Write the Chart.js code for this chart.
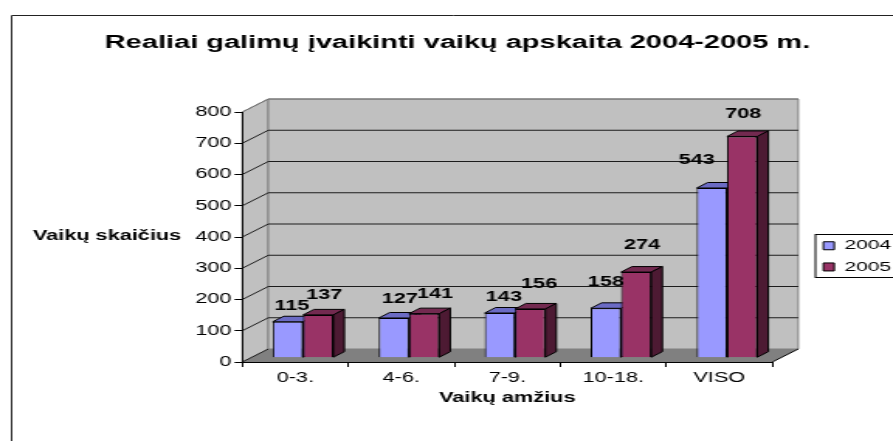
<!DOCTYPE html>
<html><head><meta charset="utf-8">
<style>
html,body{margin:0;padding:0;background:#fff;overflow:hidden;width:893px;height:441px}
canvas{display:block;transform-origin:0 0;transform:scaleX(1.5503)}
</style>
<script src="https://cdn.jsdelivr.net/npm/chart.js@4/dist/chart.umd.min.js"></script>
</head><body>
<canvas id="c" width="576" height="441"></canvas>
<script>
const categories = ["0-3.", "4-6.", "7-9.", "10-18.", "VISO"];
const series2004 = [115, 127, 143, 158, 543];
const series2005 = [137, 141, 156, 274, 708];
const seriesNames = ["2004", "2005"];
const titleText = "Realiai galimų įvaikinti vaikų apskaita 2004-2005 m.";
const yAxisTitle = "Vaikų skaičius";
const xAxisTitle = "Vaikų amžius";

const K = 893 / 576;              // horizontal stretch of the whole picture
const FONT = "'Liberation Sans', Arial, sans-serif";
const wallDepth = { x: 26 / K, y: -13 };
const barDepth = { x: 11 / K, y: -5.5 };
const barShift = { x: 7.7 / K, y: -4.3 };
const faceColors = [
  { top: "#6b6bc4", side: "#4f4f9a" },
  { top: "#732a50", side: "#4d1a33" }
];
// hand-placed data label offsets from the top-centre of each bar (reference px)
const labelNudge = [
  [[4, -16], [6, -19], [4, -16], [0, -26], [-15, -28]],
  [[6, -20], [11, -19], [9, -25], [6, -27], [1, -22]]
];

function poly(ctx, pts, fill, stroke) {
  ctx.beginPath();
  pts.forEach((p, i) => i ? ctx.lineTo(p[0], p[1]) : ctx.moveTo(p[0], p[1]));
  ctx.closePath();
  if (fill) { ctx.fillStyle = fill; ctx.fill(); }
  if (stroke) { ctx.strokeStyle = stroke; ctx.lineWidth = 1; ctx.stroke(); }
}

const scene3d = {
  id: "scene3d",
  afterLayout(chart) {
    const lg = chart.legend, w = lg.width, h = lg.height;
    lg.left = 523.4; lg.right = lg.left + w;
    lg.top = 231.3; lg.bottom = lg.top + h;
    // the title is centred on the picture's own centre line, not the plot
    const tb = chart.titleBlock, tw = tb.right - tb.left;
    tb.left = 457.5 / K - tw / 2; tb.right = tb.left + tw;
  },
  beforeDraw(chart) {
    const { ctx, chartArea: a, scales: { y } } = chart;
    const d = wallDepth;
    ctx.save();
    // outer frame (left and top edges; the rest is cropped)
    ctx.strokeStyle = "#222"; ctx.lineWidth = 1;
    ctx.beginPath();
    ctx.moveTo(7.5, 445); ctx.lineTo(7.5, 15.5); ctx.lineTo(600, 15.5); ctx.stroke();
    // floor and walls
    poly(ctx, [[a.left, a.bottom], [a.right, a.bottom], [a.right + d.x, a.bottom + d.y], [a.left + d.x, a.bottom + d.y]], "#808080");
    poly(ctx, [[a.left, a.bottom], [a.left, a.top], [a.left + d.x, a.top + d.y], [a.left + d.x, a.bottom + d.y]], "#c0c0c0", "#808080");
    poly(ctx, [[a.left + d.x, a.bottom + d.y], [a.left + d.x, a.top + d.y], [a.right + d.x, a.top + d.y], [a.right + d.x, a.bottom + d.y]], "#c0c0c0", "#808080");
    // gridlines run along the side wall and across the back wall
    y.ticks.forEach(t => {
      const py = y.getPixelForValue(t.value);
      ctx.strokeStyle = t.value === y.max ? "#707070" : "#1c1c1c";
      ctx.lineWidth = 1;
      ctx.beginPath();
      ctx.moveTo(a.left, py);
      ctx.lineTo(a.left + d.x, py + d.y);
      if (t.value !== 0) ctx.lineTo(a.right + d.x, py + d.y);
      ctx.stroke();
    });
    ctx.strokeStyle = "#000";
    ctx.beginPath();
    ctx.moveTo(a.right, a.bottom); ctx.lineTo(a.right + d.x, a.bottom + d.y);
    ctx.stroke();
    ctx.restore();
  },
  beforeDatasetsDraw(chart) {
    const ctx = chart.ctx;
    ctx.save();
    ctx.translate(barShift.x, barShift.y);
    [0, 1].forEach(ds => {
      chart.getDatasetMeta(ds).data.forEach(b => {
        const l = b.x - b.width / 2, r = b.x + b.width / 2;
        const dx = barDepth.x, dy = barDepth.y;
        poly(ctx, [[l, b.y], [r, b.y], [r + dx, b.y + dy], [l + dx, b.y + dy]], faceColors[ds].top, "#000");
        poly(ctx, [[r, b.y], [r + dx, b.y + dy], [r + dx, b.base + dy], [r, b.base]], faceColors[ds].side, "#000");
      });
    });
  },
  afterDatasetsDraw(chart) {
    const ctx = chart.ctx;
    ctx.restore();
    ctx.save();
    ctx.fillStyle = "#000";
    ctx.font = "bold 14px " + FONT;
    ctx.textAlign = "center";
    ctx.textBaseline = "middle";
    [0, 1].forEach(ds => {
      const values = chart.data.datasets[ds].data;
      chart.getDatasetMeta(ds).data.forEach((b, i) => {
        const n = labelNudge[ds][i];
        ctx.fillText(String(values[i]), b.x + barShift.x + n[0] / K, b.y + barShift.y + n[1]);
      });
    });
    // horizontal value-axis title
    ctx.fillText(yAxisTitle, 107 / K, 236);
    ctx.restore();
  },
  afterDraw(chart) {
    const ctx = chart.ctx;
    ctx.save();
    ctx.strokeStyle = "#000"; ctx.lineWidth = 1;
    ctx.strokeRect(815.5 / K, 234.5, 120, 43);
    ctx.restore();
  }
};

Chart.defaults.font.family = FONT;
Chart.defaults.color = "#000";

new Chart(document.getElementById("c"), {
  type: "bar",
  data: {
    labels: categories,
    datasets: [
      { label: seriesNames[0], data: series2004, backgroundColor: "#9999ff", borderColor: "#000", borderWidth: 1, clip: false },
      { label: seriesNames[1], data: series2005, backgroundColor: "#993366", borderColor: "#000", borderWidth: 1, clip: false }
    ]
  },
  options: {
    responsive: false,
    animation: false,
    devicePixelRatio: 1,
    layout: { padding: { left: 14, right: 576 - 772.3 / K, top: 0, bottom: 34 } },
    datasets: { bar: { barPercentage: 1, categoryPercentage: 0.572 } },
    plugins: {
      title: {
        display: true, text: titleText, color: "#000",
        font: { size: 18.7, weight: "bold" },
        padding: { top: 32, bottom: 57.56 }
      },
      legend: {
        position: "chartArea", align: "start",
        labels: { boxWidth: 7, boxHeight: 8, padding: 7.7, color: "#000", font: { size: 13.5 } }
      },
      tooltip: { enabled: false }
    },
    scales: {
      x: {
        grid: { drawOnChartArea: false, color: "#000", tickLength: 5 },
        border: { color: "#000" },
        ticks: { color: "#000", font: { size: 14 }, padding: 3, maxRotation: 0, minRotation: 0 },
        title: { display: true, text: xAxisTitle, color: "#000", font: { size: 14, weight: "bold" }, padding: 0 },
        afterFit(s) { s.height = 45; }
      },
      y: {
        min: 0, max: 800,
        grid: { drawOnChartArea: false, color: "#000", tickLength: 5 },
        border: { color: "#000" },
        ticks: { stepSize: 100, color: "#000", font: { size: 14 }, padding: 2 },
        afterFit(s) { s.width = 242.3 / K - 14; }
      }
    }
  },
  plugins: [scene3d]
});
</script>
</body></html>
